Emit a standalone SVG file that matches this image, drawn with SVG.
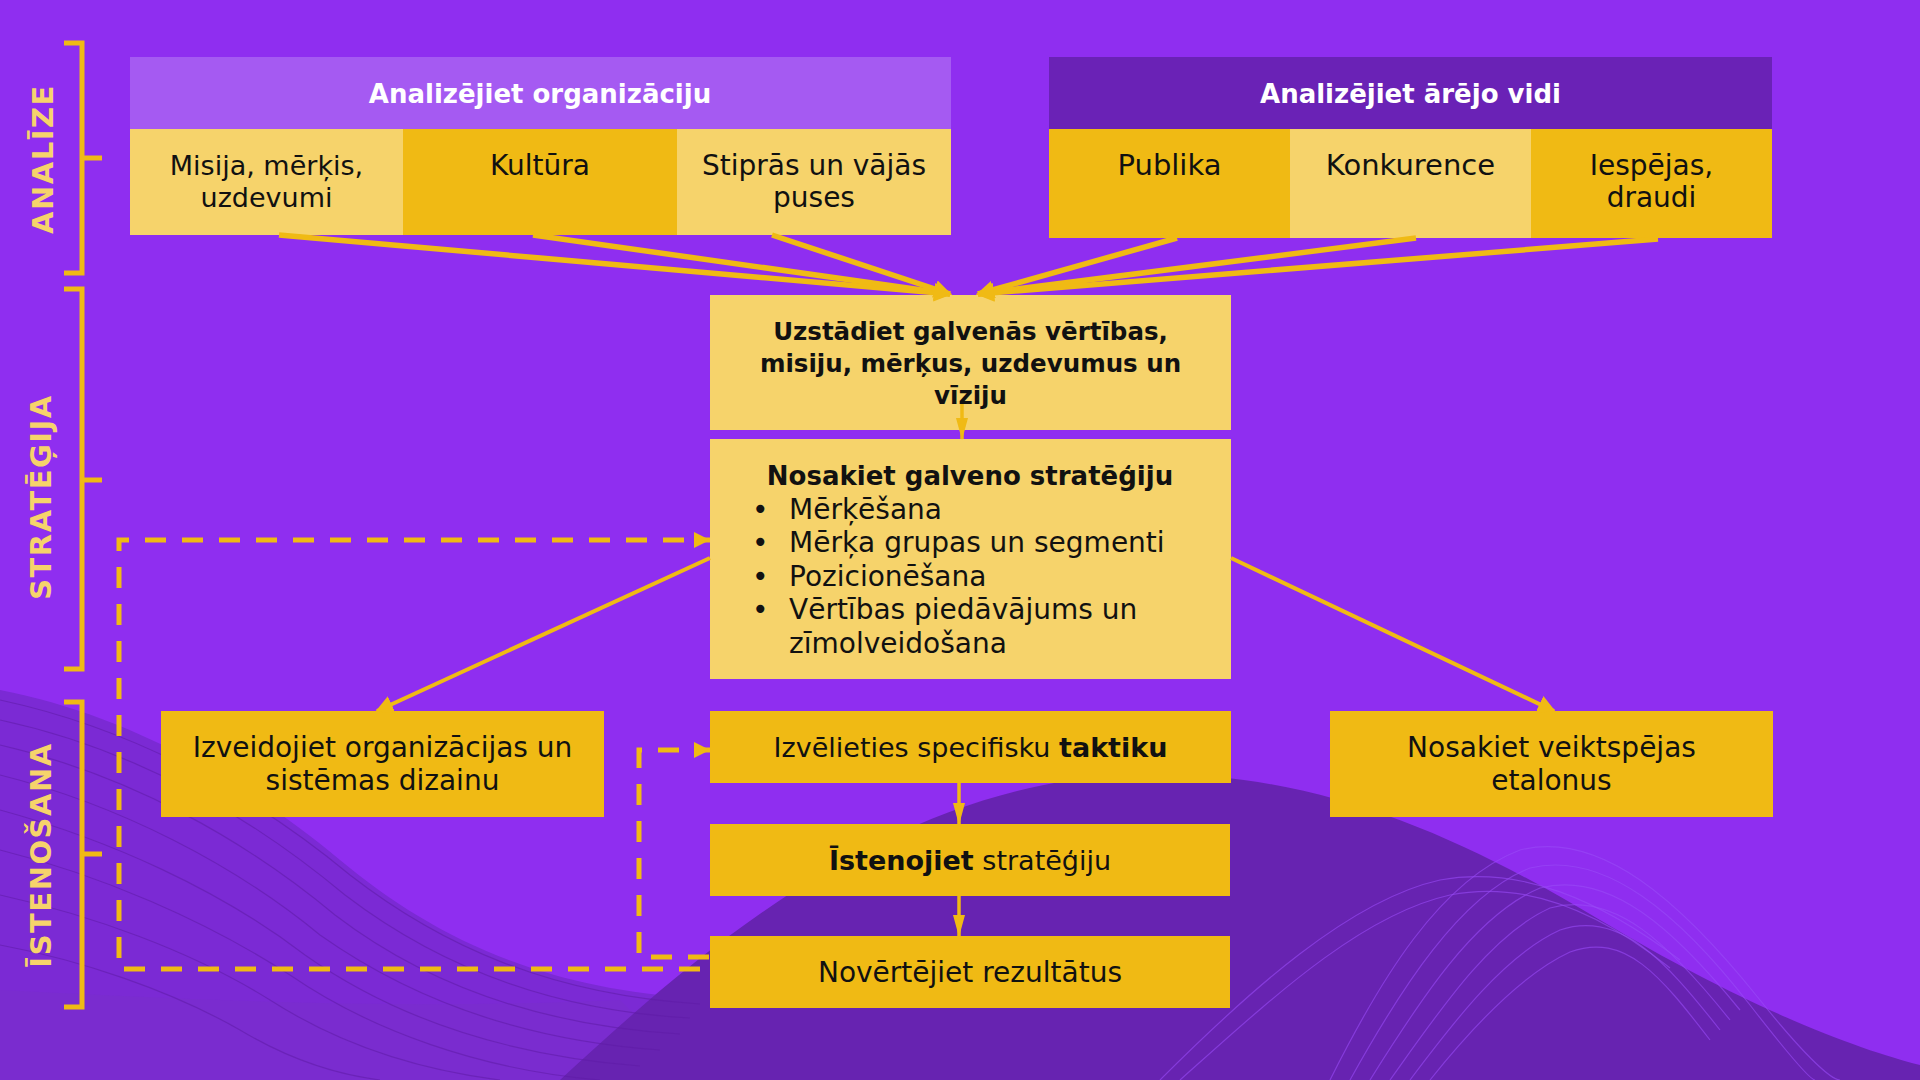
<svg xmlns="http://www.w3.org/2000/svg" width="1920" height="1080" viewBox="0 0 1920 1080">
<style>
.bg{fill:#8F2EF0}
.lt{fill:#F6D36B}
.dk{fill:#F0BA14}
.t{font-family:"DejaVu Sans","Liberation Sans",sans-serif;font-size:28px;fill:#111;text-anchor:middle}
.s27{font-size:27px}
.s29{font-size:29px}
.b{font-weight:bold}
.h{font-family:"DejaVu Sans","Liberation Sans",sans-serif;font-size:26px;font-weight:bold;fill:#fff;text-anchor:middle}
.lab{font-family:"DejaVu Sans","Liberation Sans",sans-serif;font-size:29px;font-weight:bold;fill:#F6D36B;text-anchor:middle;letter-spacing:1.5px}
.br{fill:none;stroke:#F0BA14;stroke-width:5}
.c{fill:none;stroke:#F0BA14}
.d{fill:none;stroke:#F0BA14;stroke-width:5;stroke-dasharray:21 16}
.wl{fill:none;stroke:#5E1CA6;stroke-width:1.2;opacity:.55}
.wr{fill:none;stroke:#9A4BF6;stroke-width:1.2;opacity:.6}
.st{text-anchor:start}
</style>
<defs>
<marker id="ah" viewBox="0 0 18 18" refX="16" refY="9" markerWidth="18" markerHeight="18" markerUnits="userSpaceOnUse" orient="auto"><path d="M0,0 L18,9 L0,18 z" fill="#F0BA14"/></marker>
<marker id="ahn" viewBox="0 0 22 12" refX="21" refY="6" markerWidth="22" markerHeight="12" markerUnits="userSpaceOnUse" orient="auto"><path d="M0,0 L22,6 L0,12 z" fill="#F0BA14"/></marker>
<marker id="ahd" viewBox="0 0 16 16" refX="16" refY="8" markerWidth="16" markerHeight="16" markerUnits="userSpaceOnUse" orient="auto"><path d="M0,0 L16,8 L0,16 z" fill="#F0BA14"/></marker>
</defs>
<rect class="bg" x="0" y="0" width="1920" height="1080"/>
<g id="background">
<path d="M0,690 C130,715 250,785 340,860 C430,935 540,990 700,998 L760,1080 L0,1080 Z" fill="#7B2AD4"/>
<path d="M0,990 C200,1000 400,1010 620,1000 L700,1080 L0,1080 Z" fill="#7A2FCB" opacity=".6"/>
<path d="M560,1080 C690,960 880,790 1120,775 C1300,765 1450,830 1600,920 C1750,1010 1860,1050 1920,1065 L1920,1080 Z" fill="#6723B1"/>
<path class="wl" d="M0,700 C140,730 260,800 350,875 C440,945 550,995 700,1004"/>
<path class="wl" d="M0,720 C140,750 255,820 345,895 C430,960 540,1010 690,1018"/>
<path class="wl" d="M0,745 C130,775 245,840 335,915 C420,980 530,1025 680,1034"/>
<path class="wl" d="M0,775 C120,805 235,865 320,935 C405,995 515,1040 660,1050"/>
<path class="wl" d="M0,810 C110,840 220,890 305,955 C390,1015 500,1055 640,1066"/>
<path class="wl" d="M0,850 C100,875 205,920 290,975 C370,1030 480,1070 600,1080"/>
<path class="wl" d="M0,895 C90,915 190,950 270,1000 C340,1045 420,1070 500,1080"/>
<path class="wl" d="M0,945 C80,960 170,990 240,1030 C290,1060 340,1075 380,1080"/>
<path class="wr" d="M1330,1080 C1380,980 1440,880 1520,850 C1600,830 1680,900 1760,1000 C1800,1050 1830,1080 1840,1080"/>
<path class="wr" d="M1350,1080 C1400,990 1460,895 1530,868 C1605,850 1680,915 1750,1005 C1785,1050 1810,1080 1815,1080"/>
<path class="wr" d="M1370,1080 C1420,1000 1475,915 1540,888 C1610,870 1675,930 1740,1010"/>
<path class="wr" d="M1390,1080 C1440,1010 1490,935 1550,908 C1615,890 1670,945 1730,1020"/>
<path class="wr" d="M1410,1080 C1455,1020 1505,955 1560,930 C1620,910 1665,960 1720,1030"/>
<path class="wr" d="M1430,1080 C1470,1030 1520,975 1570,952 C1625,932 1660,975 1710,1040"/>
<path class="wr" d="M1160,1080 C1250,990 1350,900 1440,880 C1520,865 1600,900 1680,960"/>
<path class="wr" d="M1180,1080 C1270,1000 1360,915 1450,895 C1525,880 1600,912 1670,968"/>
</g>

<g id="bracket-analize">
<path class="br" d="M64,43 H82 V273 H64 M82,158 H102"/>
<text class="lab" transform="translate(42,159) rotate(-90)" x="0" y="10.5">ANALĪZE</text>
</g>
<g id="bracket-strategija">
<path class="br" d="M64,289 H82 V669 H64 M82,480 H102"/>
<text class="lab" transform="translate(40,497) rotate(-90)" x="0" y="10.5">STRATĒĢIJA</text>
</g>
<g id="bracket-istenosana">
<path class="br" d="M64,702 H82 V1007 H64 M82,854 H102"/>
<text class="lab" transform="translate(40,855) rotate(-90)" x="0" y="10.5">ĪSTENOŠANA</text>
</g>

<g id="analyze-org">
<rect x="130" y="57" width="821" height="72" fill="#A55AF2"/>
<text class="h" x="540" y="103">Analizējiet organizāciju</text>
</g>
<g id="cell-misija">
<rect class="lt" x="130" y="129" width="273" height="106"/>
<text class="t s27" x="266.5" y="175">Misija, mērķis,</text>
<text class="t s27" x="266.5" y="207">uzdevumi</text>
</g>
<g id="cell-kultura">
<rect class="dk" x="403" y="129" width="274" height="106"/>
<text class="t" x="540" y="175">Kultūra</text>
</g>
<g id="cell-stipras">
<rect class="lt" x="677" y="129" width="274" height="106"/>
<text class="t" x="814" y="175">Stiprās un vājās</text>
<text class="t" x="814" y="207">puses</text>
</g>

<g id="analyze-env">
<rect x="1049" y="57" width="723" height="72" fill="#6A22B6"/>
<text class="h" x="1410.5" y="103">Analizējiet ārējo vidi</text>
</g>
<g id="cell-publika">
<rect class="dk" x="1049" y="129" width="241" height="109"/>
<text class="t s29" x="1169.5" y="175">Publika</text>
</g>
<g id="cell-konkurence">
<rect class="lt" x="1290" y="129" width="241" height="109"/>
<text class="t s29" x="1410.5" y="175">Konkurence</text>
</g>
<g id="cell-iespejas">
<rect class="dk" x="1531" y="129" width="241" height="109"/>
<text class="t" x="1651.5" y="175">Iespējas,</text>
<text class="t" x="1651.5" y="207">draudi</text>
</g>

<g id="set-values">
<rect class="lt" x="710" y="295" width="521" height="135"/>
<text class="t b" style="font-size:24.5px" x="970.5" y="340">Uzstādiet galvenās vērtības,</text>
<text class="t b" style="font-size:24.5px" x="970.5" y="372">misiju, mērķus, uzdevumus un</text>
<text class="t b" style="font-size:24.5px" x="970.5" y="404">vīziju</text>
</g>
<g id="main-strategy">
<rect class="lt" x="710" y="439" width="521" height="240"/>
<text class="t b" style="font-size:26px" x="970" y="485">Nosakiet galveno stratēģiju</text>
<text class="t st" x="752" y="518.5">•</text>
<text class="t st" x="789" y="518.5">Mērķēšana</text>
<text class="t st" x="752" y="552">•</text>
<text class="t st" x="789" y="552">Mērķa grupas un segmenti</text>
<text class="t st" x="752" y="585.5">•</text>
<text class="t st" x="789" y="585.5">Pozicionēšana</text>
<text class="t st" x="752" y="619">•</text>
<text class="t st" x="789" y="619">Vērtības piedāvājums un</text>
<text class="t st" x="789" y="652.5">zīmolveidošana</text>
</g>

<g id="org-design">
<rect class="dk" x="161" y="711" width="443" height="106"/>
<text class="t" x="382.5" y="757">Izveidojiet organizācijas un</text>
<text class="t" x="382.5" y="790">sistēmas dizainu</text>
</g>
<g id="tactics">
<rect class="dk" x="710" y="711" width="521" height="72"/>
<text class="t s27" x="970.5" y="757">Izvēlieties specifisku <tspan class="b">taktiku</tspan></text>
</g>
<g id="implement">
<rect class="dk" x="710" y="824" width="520" height="72"/>
<text class="t s27" x="970" y="870"><tspan class="b">Īstenojiet</tspan> stratēģiju</text>
</g>
<g id="evaluate">
<rect class="dk" x="710" y="936" width="520" height="72"/>
<text class="t" x="970" y="982">Novērtējiet rezultātus</text>
</g>
<g id="benchmarks">
<rect class="dk" x="1330" y="711" width="443" height="106"/>
<text class="t" x="1551.5" y="757">Nosakiet veiktspējas</text>
<text class="t" x="1551.5" y="790">etalonus</text>
</g>

<g id="connectors">
<g class="c" style="stroke-width:5.5">
<line x1="279" y1="235" x2="950" y2="294" marker-end="url(#ah)"/>
<line x1="533" y1="235" x2="950" y2="294" marker-end="url(#ah)"/>
<line x1="772" y1="235" x2="950" y2="294" marker-end="url(#ah)"/>
<line x1="1177" y1="238" x2="978" y2="294" marker-end="url(#ah)"/>
<line x1="1416" y1="238" x2="978" y2="294" marker-end="url(#ah)"/>
<line x1="1658" y1="239" x2="978" y2="294" marker-end="url(#ah)"/>
</g>
<g class="c" style="stroke-width:4">
<line x1="710" y1="558" x2="377" y2="711" marker-end="url(#ah)"/>
<line x1="1231" y1="558" x2="1554" y2="711" marker-end="url(#ah)"/>
</g>
<g class="c" style="stroke-width:3.5">
<line x1="962" y1="404" x2="962" y2="439" marker-end="url(#ahn)"/>
<line x1="959" y1="783" x2="959" y2="824" marker-end="url(#ahn)"/>
<line x1="959" y1="896" x2="959" y2="936" marker-end="url(#ahn)"/>
</g>
<path class="d" d="M700,969 H119 V540 H710" marker-end="url(#ahd)"/>
<path class="d" d="M709,957 H639 V750 H710" marker-end="url(#ahd)"/>
</g>
</svg>
